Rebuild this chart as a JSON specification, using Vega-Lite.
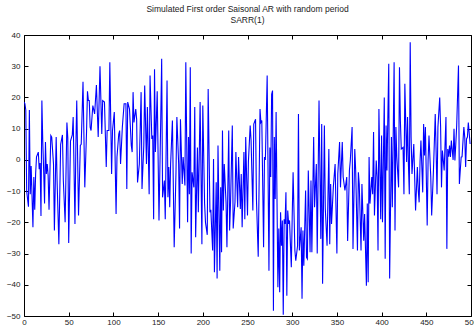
{
"$schema": "https://vega.github.io/schema/vega-lite/v6.json",
"width": 447, "height": 281,
"autosize": {"type": "none"},
"padding": {"left": 24, "top": 35, "right": 3, "bottom": 14},
"background": "white",
"config": {"view": {"stroke": null}, "font": "Liberation Sans"},
"title": {"text": ["Simulated First order Saisonal AR with random period", "SARR(1)"], "fontSize": 8.5, "fontWeight": "normal", "color": "#222", "anchor": "middle", "offset": 7, "lineHeight": 11},
"data": {"values": [
{"t":0,"v":18.5},{"t":1,"v":18},{"t":2,"v":16},{"t":3,"v":-10},{"t":5,"v":-15},{"t":6,"v":16},{"t":7,"v":-11},{"t":8,"v":-2},{"t":10,"v":-21.6},{"t":11,"v":-5.5},{"t":12,"v":-16},{"t":13,"v":-4.5},{"t":14,"v":1},{"t":16,"v":2.5},{"t":17,"v":-3},{"t":18,"v":-1},{"t":19,"v":-18},{"t":20,"v":19},{"t":21,"v":5.7},{"t":22,"v":-3.4},{"t":23,"v":-14},{"t":24,"v":5.7},{"t":25,"v":-4.5},{"t":26,"v":-1.3},{"t":27,"v":-5},{"t":28,"v":-16},{"t":30,"v":7.8},{"t":31,"v":7.3},{"t":33,"v":-1.3},{"t":34,"v":-22.6},{"t":36,"v":7.3},{"t":37,"v":-6.6},{"t":39,"v":-27},{"t":41,"v":5},{"t":43,"v":8},{"t":44,"v":-6.6},{"t":46,"v":-20},{"t":48,"v":12},{"t":49,"v":7},{"t":50,"v":-26.6},{"t":52,"v":6},{"t":54,"v":8},{"t":55,"v":13.7},{"t":57,"v":-20.5},{"t":58,"v":4},{"t":59,"v":19},{"t":61,"v":-17.8},{"t":63,"v":4.6},{"t":64,"v":5},{"t":66,"v":25},{"t":68,"v":-8.8},{"t":70,"v":9.4},{"t":71,"v":22},{"t":72,"v":19},{"t":73,"v":19},{"t":74,"v":10.5},{"t":75,"v":9.4},{"t":77,"v":17.4},{"t":79,"v":14.7},{"t":81,"v":24},{"t":83,"v":7.3},{"t":85,"v":30},{"t":87,"v":8.3},{"t":88,"v":19},{"t":90,"v":18.5},{"t":92,"v":-2.3},{"t":93,"v":9.4},{"t":95,"v":9.4},{"t":96,"v":31.3},{"t":98,"v":-4.5},{"t":99,"v":9.4},{"t":101,"v":15.3},{"t":103,"v":-17.3},{"t":104,"v":0.9},{"t":106,"v":8.3},{"t":107,"v":9.4},{"t":108,"v":-1.3},{"t":110,"v":10.5},{"t":112,"v":18},{"t":114,"v":18},{"t":115,"v":-9.3},{"t":116,"v":18.5},{"t":118,"v":16.3},{"t":120,"v":4.6},{"t":121,"v":2.5},{"t":122,"v":21.7},{"t":123,"v":12},{"t":125,"v":16.3},{"t":126,"v":13},{"t":127,"v":-7.2},{"t":129,"v":-1.3},{"t":131,"v":21.7},{"t":132,"v":-9.3},{"t":134,"v":4.6},{"t":135,"v":23.8},{"t":137,"v":-1.3},{"t":138,"v":16.9},{"t":140,"v":-11},{"t":141,"v":27},{"t":143,"v":6.7},{"t":144,"v":7.8},{"t":145,"v":-19},{"t":146,"v":29},{"t":147,"v":2.5},{"t":149,"v":22},{"t":151,"v":-19.4},{"t":153,"v":13.7},{"t":154,"v":32.4},{"t":155,"v":-12},{"t":157,"v":-6.6},{"t":158,"v":-19},{"t":160,"v":25.4},{"t":161,"v":-12},{"t":162,"v":-2.3},{"t":163,"v":-15.2},{"t":164,"v":-1.3},{"t":166,"v":12.6},{"t":168,"v":-28},{"t":170,"v":-4},{"t":171,"v":13.7},{"t":173,"v":-1.3},{"t":174,"v":-22},{"t":175,"v":13},{"t":177,"v":-7.7},{"t":178,"v":0.9},{"t":180,"v":-8.2},{"t":181,"v":31.3},{"t":183,"v":-20},{"t":184,"v":7.3},{"t":185,"v":-11},{"t":186,"v":29.7},{"t":187,"v":-30},{"t":188,"v":-4},{"t":190,"v":-8.8},{"t":191,"v":16.9},{"t":192,"v":-24.8},{"t":194,"v":4},{"t":195,"v":-16.8},{"t":197,"v":18.5},{"t":199,"v":-27},{"t":200,"v":17.4},{"t":202,"v":-14},{"t":203,"v":-20},{"t":205,"v":-24},{"t":206,"v":22.7},{"t":208,"v":-16.8},{"t":209,"v":-16},{"t":211,"v":-29},{"t":212,"v":0.3},{"t":213,"v":-36},{"t":215,"v":-7.2},{"t":216,"v":-38},{"t":217,"v":4.6},{"t":219,"v":-35.5},{"t":220,"v":-8.8},{"t":221,"v":-29.6},{"t":222,"v":9.4},{"t":223,"v":-16.2},{"t":224,"v":-1.3},{"t":226,"v":-13.6},{"t":227,"v":-28},{"t":229,"v":9.4},{"t":230,"v":-22.6},{"t":231,"v":-14},{"t":233,"v":11},{"t":234,"v":-22},{"t":236,"v":-13.6},{"t":237,"v":2.5},{"t":239,"v":-15.2},{"t":240,"v":0.9},{"t":242,"v":-15.7},{"t":243,"v":-4.5},{"t":244,"v":-21.6},{"t":246,"v":2.5},{"t":247,"v":-19},{"t":248,"v":7.3},{"t":250,"v":-17.8},{"t":251,"v":-0.7},{"t":253,"v":11},{"t":254,"v":6.2},{"t":256,"v":-16.2},{"t":257,"v":11.5},{"t":259,"v":13},{"t":260,"v":-12.5},{"t":262,"v":-31},{"t":264,"v":16.3},{"t":265,"v":12},{"t":266,"v":12.6},{"t":268,"v":-28},{"t":269,"v":0.9},{"t":270,"v":0},{"t":272,"v":27},{"t":274,"v":-35.5},{"t":275,"v":4},{"t":276,"v":-5.5},{"t":277,"v":21},{"t":278,"v":22.2},{"t":279,"v":-48.3},{"t":280,"v":7.3},{"t":281,"v":-12.5},{"t":282,"v":15.3},{"t":284,"v":-40.8},{"t":285,"v":-22},{"t":286,"v":-42.4},{"t":287,"v":-16.8},{"t":288,"v":-27.5},{"t":289,"v":-19.4},{"t":290,"v":-49.6},{"t":291,"v":-19},{"t":292,"v":-20.5},{"t":293,"v":-10.4},{"t":294,"v":-43.5},{"t":295,"v":-16.2},{"t":296,"v":-20.5},{"t":297,"v":-19.4},{"t":299,"v":-34.4},{"t":300,"v":-18.4},{"t":301,"v":-4},{"t":303,"v":-29},{"t":304,"v":-32.3},{"t":306,"v":-27.5},{"t":307,"v":14.7},{"t":308,"v":-29},{"t":310,"v":-21.6},{"t":311,"v":-44.5},{"t":312,"v":-22.6},{"t":313,"v":-33.9},{"t":315,"v":-9.8},{"t":316,"v":-31.2},{"t":317,"v":-31.7},{"t":318,"v":-3.4},{"t":320,"v":-29.6},{"t":321,"v":-6.6},{"t":322,"v":-29.6},{"t":324,"v":7.3},{"t":325,"v":-15.2},{"t":327,"v":-1.3},{"t":328,"v":-30},{"t":330,"v":19},{"t":332,"v":-25.3},{"t":333,"v":11.5},{"t":334,"v":-39.7},{"t":336,"v":11},{"t":337,"v":-15.5},{"t":339,"v":-27.5},{"t":341,"v":3.5},{"t":342,"v":-27},{"t":343,"v":-7.7},{"t":344,"v":-20.5},{"t":346,"v":-8.8},{"t":348,"v":-1.3},{"t":350,"v":-30},{"t":351,"v":-4.5},{"t":353,"v":5.7},{"t":354,"v":-8.8},{"t":356,"v":5.7},{"t":357,"v":-5.5},{"t":359,"v":-9.8},{"t":361,"v":-5.5},{"t":362,"v":-26},{"t":364,"v":-3.4},{"t":365,"v":-0.2},{"t":367,"v":10.5},{"t":368,"v":-28.5},{"t":370,"v":3.5},{"t":371,"v":-3.4},{"t":373,"v":-29},{"t":374,"v":-4},{"t":375,"v":-7.7},{"t":377,"v":-29},{"t":378,"v":-7.7},{"t":380,"v":-25.9},{"t":381,"v":-17.3},{"t":383,"v":-40.3},{"t":384,"v":-14},{"t":385,"v":-39.2},{"t":386,"v":0.9},{"t":387,"v":-14},{"t":389,"v":-5.5},{"t":390,"v":-11},{"t":391,"v":8.9},{"t":392,"v":-17.8},{"t":394,"v":-0.2},{"t":395,"v":-5.5},{"t":396,"v":-29},{"t":397,"v":16.3},{"t":399,"v":-19},{"t":400,"v":7.8},{"t":401,"v":-20},{"t":403,"v":20},{"t":404,"v":-31.7},{"t":405,"v":11},{"t":406,"v":-3.4},{"t":408,"v":30.8},{"t":409,"v":-38},{"t":411,"v":7.3},{"t":412,"v":-15.2},{"t":414,"v":31.3},{"t":415,"v":-22.6},{"t":416,"v":10.5},{"t":417,"v":0.9},{"t":419,"v":-8.8},{"t":420,"v":29.7},{"t":421,"v":12.6},{"t":422,"v":3.5},{"t":424,"v":4},{"t":425,"v":-11},{"t":426,"v":24.4},{"t":428,"v":-0.7},{"t":429,"v":13.7},{"t":430,"v":-1.3},{"t":431,"v":-11},{"t":432,"v":37.7},{"t":433,"v":7.3},{"t":434,"v":-4.5},{"t":436,"v":5.1},{"t":438,"v":-16.2},{"t":440,"v":-2.3},{"t":441,"v":-9.8},{"t":442,"v":-13.6},{"t":443,"v":-0.7},{"t":444,"v":6.2},{"t":446,"v":-10.4},{"t":447,"v":11.5},{"t":448,"v":1.4},{"t":449,"v":10.5},{"t":451,"v":-21},{"t":452,"v":-0.2},{"t":453,"v":7.8},{"t":455,"v":-5.5},{"t":456,"v":-17.8},{"t":458,"v":-3.4},{"t":460,"v":14.7},{"t":461,"v":2.5},{"t":462,"v":-11},{"t":463,"v":10.5},{"t":465,"v":20},{"t":466,"v":10.5},{"t":467,"v":-8.8},{"t":468,"v":3},{"t":470,"v":-3.4},{"t":472,"v":13.7},{"t":473,"v":-28.5},{"t":474,"v":3.5},{"t":475,"v":1},{"t":476,"v":4.6},{"t":477,"v":0.9},{"t":478,"v":6.2},{"t":480,"v":0},{"t":481,"v":10},{"t":482,"v":-0.2},{"t":483,"v":5.1},{"t":484,"v":11},{"t":486,"v":30.2},{"t":487,"v":-7.7},{"t":489,"v":0.9},{"t":490,"v":1},{"t":492,"v":10.5},{"t":493,"v":7.3},{"t":494,"v":-2.3},{"t":495,"v":6.7},{"t":496,"v":7.3},{"t":497,"v":12},{"t":499,"v":5.1}
]},
"layer": [
 {"mark": {"type": "line", "color": "#0000ff", "strokeWidth": 1.1, "clip": true},
  "encoding": {
   "x": {"field": "t", "type": "quantitative", "scale": {"domain": [0, 500], "nice": false, "zero": false},
         "axis": {"orient": "bottom", "values": [0,50,100,150,200,250,300,350,400,450,500], "title": null, "grid": false, "tickSize": -4, "labelPadding": 6, "domainColor": "#000", "tickColor": "#000", "labelColor": "#222", "labelFontSize": 8, "labelFlush": false, "labelOverlap": false, "labelFont": "Liberation Sans"}},
   "y": {"field": "v", "type": "quantitative", "scale": {"domain": [-50, 40], "nice": false, "zero": false},
         "axis": {"orient": "left", "values": [-50,-40,-30,-20,-10,0,10,20,30,40], "title": null, "grid": false, "tickSize": -4, "labelPadding": 8, "domainColor": "#000", "tickColor": "#000", "labelColor": "#222", "labelFontSize": 8, "labelFlush": false, "labelOverlap": false, "labelFont": "Liberation Sans"}}
  }},
 {"mark": {"type": "line", "strokeOpacity": 0},
  "encoding": {
   "x": {"field": "t", "type": "quantitative", "axis": {"orient": "top", "values": [0,50,100,150,200,250,300,350,400,450,500], "title": null, "grid": false, "labels": false, "tickSize": -4, "domainColor": "#000", "tickColor": "#000"}},
   "y": {"field": "v", "type": "quantitative", "axis": {"orient": "right", "values": [-50,-40,-30,-20,-10,0,10,20,30,40], "title": null, "grid": false, "labels": false, "tickSize": -4, "domainColor": "#000", "tickColor": "#000"}}
  }}
],
"resolve": {"axis": {"x": "independent", "y": "independent"}}
}
